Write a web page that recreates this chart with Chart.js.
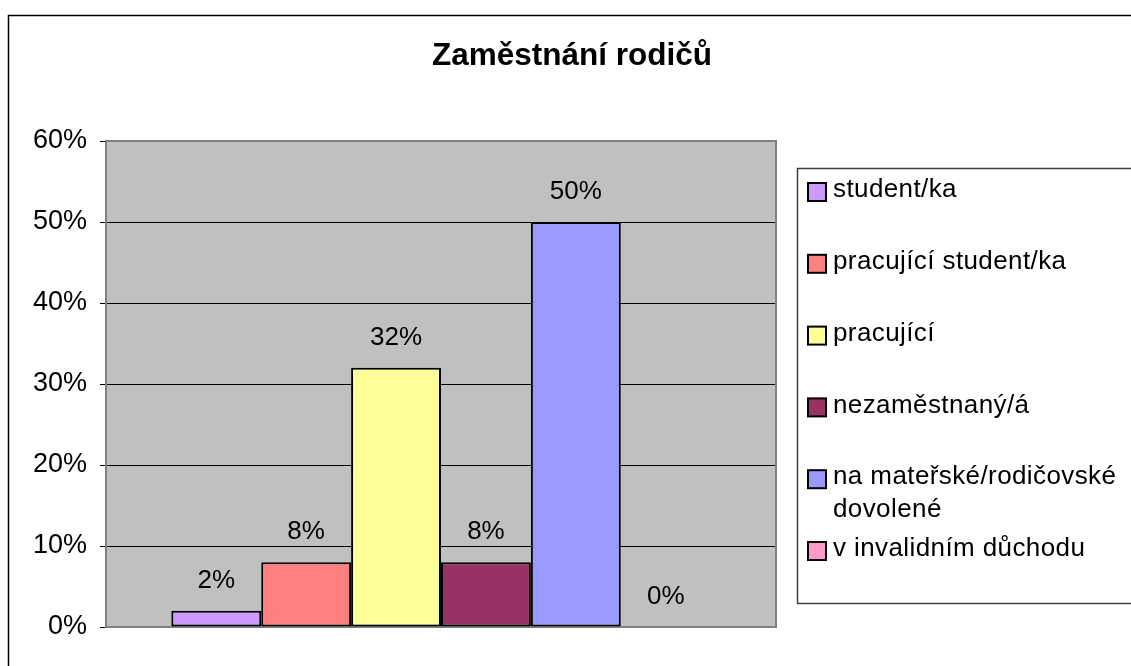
<!DOCTYPE html>
<html>
<head>
<meta charset="utf-8">
<script src="https://cdn.jsdelivr.net/npm/chart.js@4/dist/chart.umd.min.js"></script>
<style>
  html, body { margin: 0; padding: 0; background: #fff; }
  #wrap { width: 1131px; height: 666px; }
</style>
</head>
<body>
<div id="wrap"><canvas id="graf"></canvas></div>
<script>
const nadpis = 'Zaměstnání rodičů';
const kategorie = [''];
const nazvySerii = ['student/ka', 'pracující student/ka', 'pracující', 'nezaměstnaný/á', 'na mateřské/rodičovské dovolené', 'v invalidním důchodu'];
const hodnoty = [2, 8, 32, 8, 50, 0];
const barvy = ['#CC99FF', '#FF8080', '#FFFF99', '#993366', '#9999FF', '#FF99CC'];
const osaY = { min: 0, max: 60, krok: 10 };

const pismo = '"Liberation Sans", Arial, sans-serif';

// pozadi, ramecek grafu a sede pole
const pozadiPlugin = {
    id: 'pozadi',
    beforeDraw(chart) {
        const ctx = chart.ctx;
        const a = chart.chartArea;
        ctx.save();
        ctx.fillStyle = '#fff';
        ctx.fillRect(0, 0, chart.width, chart.height);
        ctx.strokeStyle = '#000';
        ctx.lineWidth = 1.5;
        ctx.strokeRect(8.5, 15.5, 2000, 2000);
        ctx.fillStyle = '#C0C0C0';
        ctx.fillRect(a.left, a.top, a.right - a.left, a.bottom - a.top);
        ctx.restore();
    },
    beforeDatasetsDraw(chart) {
        const ctx = chart.ctx;
        const a = chart.chartArea;
        ctx.save();
        ctx.strokeStyle = '#808080';
        ctx.lineWidth = 2;
        ctx.strokeRect(a.left, a.top, a.right - a.left, a.bottom - a.top);
        ctx.restore();
    }
};

// nadpis, popisky hodnot a legenda
const popiskyPlugin = {
    id: 'popisky',
    afterDatasetsDraw(chart) {
        const ctx = chart.ctx;
        ctx.save();
        ctx.fillStyle = '#000';
        ctx.font = '26px ' + pismo;
        ctx.textAlign = 'center';
        ctx.textBaseline = 'middle';
        chart.data.datasets.forEach((ds, i) => {
            const bar = chart.getDatasetMeta(i).data[0];
            ctx.fillText(ds.data[0] + '%', bar.x, bar.y - 30);
        });

        ctx.font = 'bold 31.5px ' + pismo;
        ctx.fillText(nadpis, 572, 56);

        // legenda
        ctx.strokeStyle = '#404040';
        ctx.lineWidth = 1.5;
        ctx.strokeRect(797.5, 168.5, 1000, 435);
        ctx.font = '26px ' + pismo;
        ctx.letterSpacing = '0.4px';
        ctx.textAlign = 'left';
        const maxSirka = 1131 - 833 - 8;
        chart.data.datasets.forEach((ds, i) => {
            const y = 190 + i * 71.8;
            ctx.fillStyle = ds.backgroundColor;
            ctx.fillRect(808, y - 7, 18, 18);
            ctx.strokeStyle = '#000';
            ctx.lineWidth = 2;
            ctx.strokeRect(808, y - 7, 18, 18);
            ctx.fillStyle = '#000';
            // zalomeni dlouhych nazvu
            const slova = ds.label.split(' ');
            const radky = [];
            let radek = '';
            slova.forEach(s => {
                const zkus = radek ? radek + ' ' + s : s;
                if (ctx.measureText(zkus).width > maxSirka && radek) {
                    radky.push(radek);
                    radek = s;
                } else {
                    radek = zkus;
                }
            });
            radky.push(radek);
            radky.forEach((r, j) => ctx.fillText(r, 833, y + j * 33));
        });
        ctx.restore();
    }
};

const datasety = nazvySerii.map((nazev, i) => ({
    label: nazev,
    data: [hodnoty[i]],
    backgroundColor: barvy[i],
    borderColor: '#000',
    borderWidth: 2,
    borderSkipped: false
}));

const graf = new Chart(document.getElementById('graf'), {
    type: 'bar',
    data: { labels: kategorie, datasets: datasety },
    options: {
        responsive: true,
        maintainAspectRatio: false,
        animation: false,
        layout: { padding: { top: 141, right: 355, bottom: 39, left: 0 } },
        datasets: { bar: { categoryPercentage: 0.805, barPercentage: 1 } },
        plugins: {
            legend: { display: false },
            title: { display: false },
            tooltip: { enabled: false }
        },
        scales: {
            x: { display: false },
            y: {
                min: osaY.min,
                max: osaY.max,
                afterFit: s => { s.width = 106; },
                border: { display: false },
                grid: {
                    color: c => (c.tick && (c.tick.value === osaY.min || c.tick.value === osaY.max)) ? '#808080' : '#000',
                    lineWidth: 1,
                    tickLength: 6,
                    tickColor: '#000'
                },
                ticks: {
                    stepSize: osaY.krok,
                    padding: 13,
                    color: '#000',
                    font: { family: pismo, size: 27 },
                    callback: v => v + '%'
                }
            }
        }
    },
    plugins: [pozadiPlugin, popiskyPlugin]
});
</script>
</body>
</html>
